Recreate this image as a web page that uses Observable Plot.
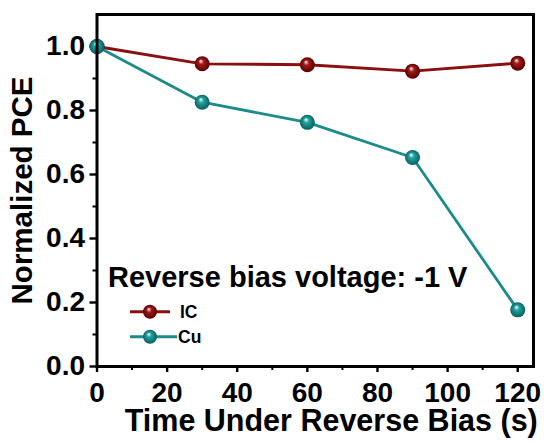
<!DOCTYPE html>
<html><head><meta charset="utf-8">
<script src="https://cdn.jsdelivr.net/npm/d3@7"></script>
<script src="https://cdn.jsdelivr.net/npm/@observablehq/plot@0.6"></script>
<style>
body{margin:0;background:#fff;}
#chart{position:relative;width:544px;height:443px;}
svg{overflow:visible;}
svg text{font-family:"Liberation Sans",Arial,sans-serif;font-weight:bold;fill:#000;}
g[aria-label="x-axis label"] text{font-size:30.5px;}
g[aria-label="y-axis label"] text{font-size:29.5px;}
#legend{position:absolute;left:0;top:0;pointer-events:none;}
</style></head><body><div id="chart"></div>
<script>
const times=[0,30,60,90,120];
const icValues=[1.0,0.946,0.943,0.923,0.948];
const cuValues=[1.0,0.826,0.763,0.653,0.177];
const seriesNames=["IC","Cu"];
const seriesColors=["#8a0f0f","#1b8c8a"];
const xTicks=[0,20,40,60,80,100,120];
const xMinor=[10,30,50,70,90,110];
const yTicks=[0,0.2,0.4,0.6,0.8,1.0];
const yMinor=[0.1,0.3,0.5,0.7,0.9];
const legendTitle="Reverse bias voltage: -1 V";

const rows=[];
times.forEach((t,i)=>rows.push({series:"IC",time:t,value:icValues[i]}));
times.forEach((t,i)=>rows.push({series:"Cu",time:t,value:cuValues[i]}));

const W=544,H=443,mL=96.5,mR=11,mT=14,mB=77;

const plot=Plot.plot({
  width:W,height:H,marginLeft:mL,marginRight:mR,marginTop:mT,marginBottom:mB,
  x:{domain:[0,124.5]},
  y:{domain:[0,1.1]},
  color:{domain:seriesNames,range:seriesColors},
  marks:[
    Plot.axisX({ticks:xTicks,tickSize:6,tickPadding:10,fontSize:28,strokeWidth:2.4,
      label:"Time Under Reverse Bias (s)",labelAnchor:"center",labelArrow:"none",labelOffset:64.5}),
    Plot.axisX({ticks:xMinor,tickSize:4,text:null,strokeWidth:2,label:null}),
    Plot.axisY({ticks:yTicks,tickSize:7,tickPadding:5,fontSize:28,strokeWidth:2.4,tickFormat:d3.format(".1f"),
      label:"Normalized PCE",labelAnchor:"center",labelArrow:"none",labelOffset:86}),
    Plot.axisY({ticks:yMinor,tickSize:4,text:null,strokeWidth:2,label:null}),
    Plot.line(rows,{x:"time",y:"value",z:"series",stroke:"series",strokeWidth:2.8}),
    Plot.dot(rows.filter(d=>d.series==="IC"),{x:"time",y:"value",r:7.5,fill:"url(#grad-IC)",stroke:"none"}),
    Plot.dot(rows.filter(d=>d.series==="Cu"),{x:"time",y:"value",r:7.5,fill:"url(#grad-Cu)",stroke:"none"}),
    Plot.frame({strokeWidth:3,stroke:"#000"})
  ]
});

const svg=d3.select(plot);
const defs=svg.insert("defs",":first-child");
function addGrad(id,base,dark){
  const g=defs.append("radialGradient").attr("id",id).attr("cx","0.5").attr("cy","0.5").attr("r","0.5").attr("fx","0.4").attr("fy","0.3");
  g.append("stop").attr("offset","0%").attr("stop-color","#ffffff");
  g.append("stop").attr("offset","35%").attr("stop-color",base);
  g.append("stop").attr("offset","100%").attr("stop-color",dark);
}
addGrad("grad-IC","#a21a1a","#5a0000");
addGrad("grad-Cu","#1fa3a0","#0c5f5e");

// shift x-axis title to match reference centring
svg.selectAll('g[aria-label="x-axis label"]').each(function(){
  this.setAttribute("transform",(this.getAttribute("transform")||"")+" translate(16,0)");
});

const chart=document.getElementById("chart");
chart.appendChild(plot);

// legend overlay
const lg=d3.select(chart).append("svg").attr("id","legend").attr("width",W).attr("height",H);
lg.append("text").attr("x",108).attr("y",286.7).attr("font-size",29).text(legendTitle);
const legendLineEnd=[170,177];
const legendTextX=[180,178];
seriesNames.forEach((name,i)=>{
  const y=311.7+i*25;
  lg.append("line").attr("x1",130).attr("x2",legendLineEnd[i]).attr("y1",y).attr("y2",y).attr("stroke",seriesColors[i]).attr("stroke-width",3);
  lg.append("circle").attr("cx",150).attr("cy",y).attr("r",7).attr("fill",`url(#grad-${name})`);
  lg.append("text").attr("x",legendTextX[i]).attr("y",y+6).attr("font-size",17.5).text(name);
});
</script></body></html>
